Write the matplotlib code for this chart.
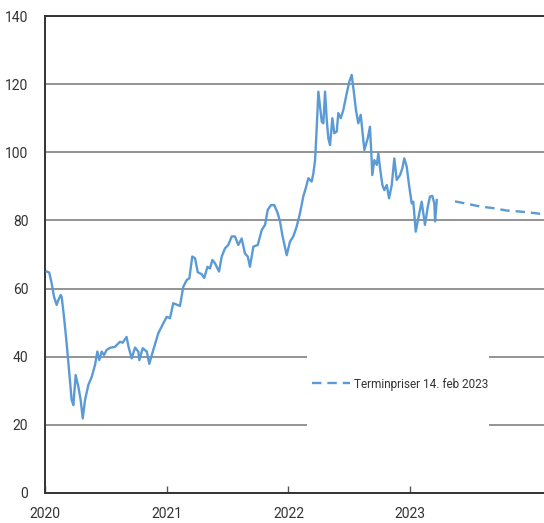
import matplotlib
matplotlib.use("Agg")
import matplotlib.pyplot as plt
from matplotlib.patches import Rectangle

# Spot price (decimal years, value)
spot_x = [2020.014, 2020.035, 2020.055, 2020.074, 2020.096, 2020.109, 2020.129, 2020.137,
          2020.156, 2020.178, 2020.200, 2020.219, 2020.233, 2020.252, 2020.274, 2020.293,
          2020.310, 2020.329, 2020.356, 2020.384, 2020.411, 2020.430, 2020.446, 2020.466,
          2020.485, 2020.507, 2020.534, 2020.575, 2020.616, 2020.638, 2020.670, 2020.686,
          2020.712, 2020.740, 2020.767, 2020.775, 2020.803, 2020.836, 2020.857, 2020.890,
          2020.931, 2020.972, 2021.000, 2021.027, 2021.054, 2021.109, 2021.136, 2021.164,
          2021.186, 2021.210, 2021.233, 2021.255, 2021.288, 2021.308, 2021.335, 2021.356,
          2021.375, 2021.397, 2021.430, 2021.452, 2021.479, 2021.506, 2021.534, 2021.561,
          2021.588, 2021.616, 2021.643, 2021.666, 2021.684, 2021.712, 2021.748, 2021.781,
          2021.808, 2021.830, 2021.857, 2021.884, 2021.912, 2021.931, 2021.950, 2021.986,
          2022.013, 2022.040, 2022.068, 2022.095, 2022.122, 2022.145, 2022.164, 2022.191,
          2022.205, 2022.219, 2022.233, 2022.246, 2022.260, 2022.274, 2022.287, 2022.301,
          2022.315, 2022.328, 2022.342, 2022.361, 2022.377, 2022.397, 2022.410, 2022.430,
          2022.451, 2022.479, 2022.500, 2022.520, 2022.539, 2022.555, 2022.574, 2022.594,
          2022.611, 2022.624, 2022.652, 2022.670, 2022.684, 2022.689, 2022.706, 2022.726,
          2022.739, 2022.753, 2022.772, 2022.788, 2022.808, 2022.827, 2022.849, 2022.870,
          2022.890, 2022.917, 2022.936, 2022.952, 2022.972, 2022.991, 2023.013, 2023.026,
          2023.046, 2023.067, 2023.095, 2023.122, 2023.145, 2023.163, 2023.182, 2023.199,
          2023.205, 2023.219]
spot_y = [65.0, 64.7, 61.5, 57.6, 55.2, 56.6, 58.1, 57.6,
          51.7, 43.9, 35.1, 27.3, 25.8, 34.6, 31.2, 27.3,
          21.9, 27.3, 31.7, 34.1, 37.6, 41.5, 39.0, 41.5,
          40.5, 42.0, 42.6, 42.9, 44.4, 44.1, 45.8, 43.0,
          39.5, 42.7, 41.5, 39.0, 42.5, 41.5, 37.9, 42.0,
          46.9, 49.8, 51.7, 51.3, 55.7, 54.9, 60.5, 62.5,
          63.0, 69.4, 68.9, 64.8, 64.2, 63.1, 66.4, 65.9,
          68.4, 67.4, 65.0, 69.4, 71.8, 72.8, 75.3, 75.3,
          72.8, 74.7, 70.3, 69.4, 66.4, 72.3, 72.8, 77.2,
          78.7, 83.1, 84.5, 84.5, 82.1, 79.7, 75.7, 69.8,
          73.8, 75.3, 78.2, 82.1, 87.0, 89.8, 92.4, 91.4,
          93.8, 97.7, 107.5, 117.8, 113.4, 109.0, 108.5, 117.8,
          109.5, 104.1, 102.1, 110.0, 105.6, 106.1, 111.5, 110.0,
          112.4, 117.3, 120.7, 122.7, 117.3, 112.4, 108.5, 111.0,
          105.1, 100.7, 104.1, 107.5, 97.7, 93.3, 97.7, 96.3,
          99.7, 95.3, 90.4, 88.9, 90.4, 86.5, 90.4, 98.2,
          91.9, 93.3, 95.3, 98.2, 95.8, 90.4, 85.0, 85.5,
          76.7, 80.6, 85.5, 78.7, 84.0, 87.0, 87.2, 85.0,
          79.7, 86.0]

# Forward prices 14 Feb 2023
fwd_x = [2023.369, 2023.465, 2023.574, 2023.684, 2023.794, 2023.903, 2024.012, 2024.100]
fwd_y = [85.6, 84.9, 84.1, 83.6, 82.9, 82.6, 82.2, 81.8]

year_ticks = [2020, 2021, 2022, 2023]
year_labels = ["2020", "2021", "2022", "2023"]
y_ticks = [0, 20, 40, 60, 80, 100, 120, 140]
legend_label = "Terminpriser 14. feb 2023"

BLUE = "#5B9BD5"

plt.rcParams["font.family"] = ["Roboto", "DejaVu Sans"]

fig = plt.figure(figsize=(5.44, 5.23), dpi=100)
ax = fig.add_axes([45 / 544, 30 / 523, 499 / 544, 477 / 523])

ax.plot(spot_x, spot_y, color=BLUE, lw=1.7, zorder=3, solid_joinstyle="round")
ax.plot(fwd_x, fwd_y, color=BLUE, lw=1.7, dashes=(4, 2.5), zorder=3, label=legend_label)

ax.set_xlim(2020, 2024.1)
ax.set_ylim(0, 140)
ax.set_yticks(y_ticks)
ax.set_yticklabels([str(v) for v in y_ticks], fontsize=10, color="#333333")
ax.set_xticks(year_ticks)
ax.set_xticklabels(year_labels, fontsize=10, color="#333333")

ax.grid(axis="y", color="#8a8a8a", lw=1.3)
ax.set_axisbelow(True)
ax.tick_params(axis="y", length=0, pad=12)
ax.tick_params(axis="x", direction="in", length=5, width=1, color="#555555", pad=10)

for s in ["left", "bottom", "top"]:
    ax.spines[s].set_color("#333333")
    ax.spines[s].set_linewidth(1.4)
ax.spines["right"].set_visible(False)

# white background behind legend (hides gridlines)
ax.add_patch(Rectangle((0.525, 0.12), 0.365, 0.19, transform=ax.transAxes,
                       facecolor="white", edgecolor="none", zorder=1))

leg = ax.legend(loc="center left", bbox_to_anchor=(0.535, 0.2285), frameon=False,
                fontsize=8.5, handlelength=3.2, handletextpad=0.4, borderpad=0,
                borderaxespad=0)
for t in leg.get_texts():
    t.set_color("#333333")

fig.savefig("out.png", dpi=100)
